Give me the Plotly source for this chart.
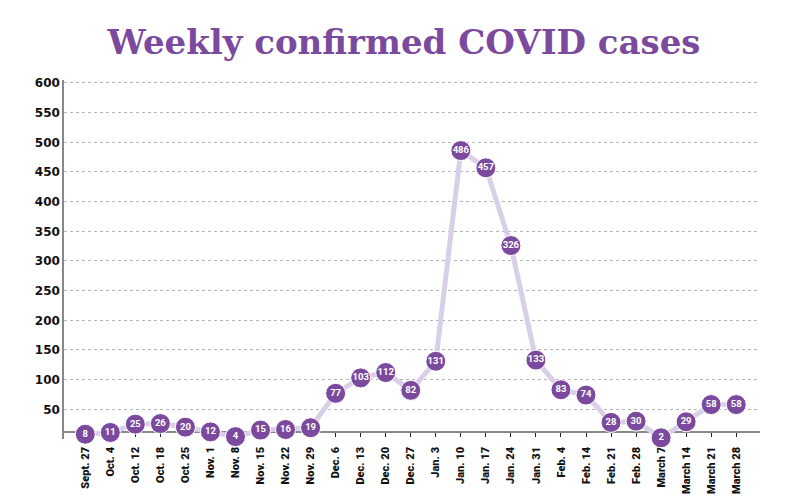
import plotly.graph_objects as go

weeks = ["Sept. 27", "Oct. 4", "Oct. 12", "Oct. 18", "Oct. 25", "Nov. 1", "Nov. 8",
         "Nov. 15", "Nov. 22", "Nov. 29", "Dec. 6", "Dec. 13", "Dec. 20", "Dec. 27",
         "Jan. 3", "Jan. 10", "Jan. 17", "Jan. 24", "Jan. 31", "Feb. 4", "Feb. 14",
         "Feb. 21", "Feb. 28", "March 7", "March 14", "March 21", "March 28"]
cases = [8, 11, 25, 26, 20, 12, 4, 15, 16, 19, 77, 103, 112, 82, 131, 486, 457,
         326, 133, 83, 74, 28, 30, 2, 29, 58, 58]
y_ticks = [50, 100, 150, 200, 250, 300, 350, 400, 450, 500, 550, 600]

purple = "#7b4a9e"
fig = go.Figure()
fig.add_trace(go.Scatter(
    x=list(range(len(weeks))), y=cases,
    mode="lines+markers+text",
    line=dict(color="#dacfe8", width=5),
    marker=dict(size=20, color=purple, line=dict(color="white", width=1)),
    text=[str(v) for v in cases],
    textposition="middle center",
    textfont=dict(family="Roboto", size=9.5, color="white", weight="bold"),
    cliponaxis=False,
    hoverinfo="skip",
))
fig.update_layout(
    width=792, height=494,
    margin=dict(l=56, r=40, t=72, b=63, autoexpand=False),
    paper_bgcolor="white", plot_bgcolor="white",
    showlegend=False,
    title=dict(text="Weekly confirmed COVID cases", x=0.5, xanchor="center",
               y=0.931, yanchor="middle", automargin=False,
               font=dict(family="DejaVu Serif", size=34, color=purple, weight="bold")),
)
fig.update_xaxes(
    tickmode="array", tickvals=list(range(len(weeks))), ticktext=weeks,
    tickangle=-90, range=[-0.85, 26.95],
    anchor="free", position=0.02, layer="below traces",
    tickfont=dict(family="Roboto", size=11, color="#111", weight=900),
    showline=True, linecolor="#888", linewidth=1.5,
    ticks="outside", ticklen=4, tickcolor="#222", ticklabelstandoff=6,
    showgrid=False, zeroline=False, automargin=False,
)
fig.update_yaxes(
    tickmode="array", tickvals=y_ticks, range=[0, 605], layer="below traces",
    tickfont=dict(family="DejaVu Sans", size=12, color="#111", weight="bold"),
    showline=True, linecolor="#888", linewidth=1.5,
    showgrid=True, gridcolor="#b5b5b5", griddash="dot", gridwidth=1,
    zeroline=False, ticks="", automargin=False,
)
fig.write_html("out.html")
